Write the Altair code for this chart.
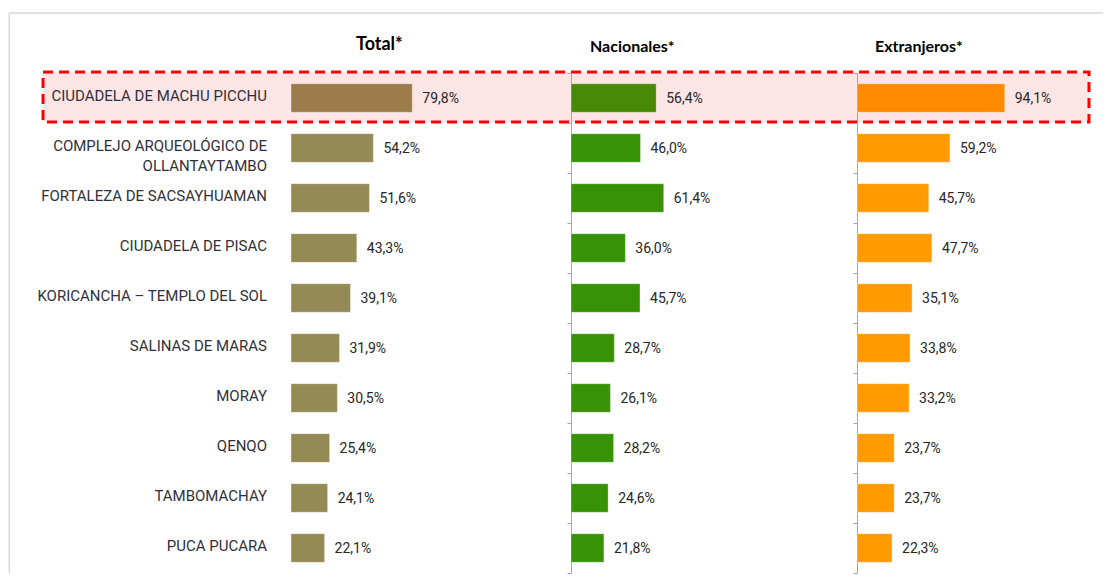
import altair as alt
import pandas as pd

categorias = [
    "CIUDADELA DE MACHU PICCHU",
    "COMPLEJO ARQUEOLÓGICO DE\nOLLANTAYTAMBO",
    "FORTALEZA DE SACSAYHUAMAN",
    "CIUDADELA DE PISAC",
    "KORICANCHA – TEMPLO DEL SOL",
    "SALINAS DE MARAS",
    "MORAY",
    "QENQO",
    "TAMBOMACHAY",
    "PUCA PUCARA",
]
total = [79.8, 54.2, 51.6, 43.3, 39.1, 31.9, 30.5, 25.4, 24.1, 22.1]
nacionales = [56.4, 46.0, 61.4, 36.0, 45.7, 28.7, 26.1, 28.2, 24.6, 21.8]
extranjeros = [94.1, 59.2, 45.7, 47.7, 35.1, 33.8, 33.2, 23.7, 23.7, 22.3]
series = ["Total*", "Nacionales*", "Extranjeros*"]
destacado = categorias[0]

colores_normal = ["#948a54", "#389206", "#ff9a00"]
colores_destacado = ["#9c7c4b", "#488907", "#ff8c00"]

# long table
filas = []
for serie, valores in zip(series, [total, nacionales, extranjeros]):
    for cat, v in zip(categorias, valores):
        filas.append({
            "serie": serie,
            "categoria": cat,
            "valor": v,
            "etiqueta": f"{v:.1f}".replace(".", ",") + "%",
            "destacado": "si" if cat == destacado else "no",
        })
df = pd.DataFrame(filas)
df_cat = pd.DataFrame({"categoria": categorias})

W_L, W_T, W_N, W_E = 248, 280, 286, 232
H = 500
px_por_pct = [1.52, 1.51, 1.57]
anchos = [W_T, W_N, W_E]
title_dx = [65, 19, 18]
title_size = [18, 16, 16]

FONT = "Roboto"


def y_enc(axis):
    return alt.Y(
        "categoria:N",
        sort=categorias,
        scale=alt.Scale(domain=categorias, paddingInner=0, paddingOuter=0),
        axis=axis,
    )


# outer light frame (top and left edges)
marco_sup = alt.Chart(df_cat).transform_filter(alt.datum.categoria == destacado).mark_rule(
    color="#d9d9d9", strokeWidth=1.5
).encode(x=alt.value(-33.75), x2=alt.value(1060), y=alt.value(-60))
marco_izq = alt.Chart(df_cat).transform_filter(alt.datum.categoria == destacado).mark_rule(
    color="#d9d9d9", strokeWidth=1.5
).encode(x=alt.value(-33.75), y=alt.value(-60), y2=alt.value(H))

# label panel with highlight box
box = (
    alt.Chart(df_cat)
    .transform_filter(alt.datum.categoria == destacado)
    .mark_rect(fill="#fde5e5", stroke="#ff0000", strokeWidth=3,
               strokeDash=[10, 6], yOffset=-1)
    .encode(x=alt.value(0), x2=alt.value(W_L + W_T + W_N + W_E), y=y_enc(None))
)
etiquetas_cat = (
    alt.Chart(df_cat)
    .mark_text(align="right", baseline="alphabetic", dy=3, lineBreak="\n",
               lineHeight=20, font=FONT, fontSize=15, color="#30303a")
    .encode(x=alt.value(W_L - 24), y=y_enc(None), text="categoria:N")
)
panel_l = alt.layer(marco_sup, marco_izq, box, etiquetas_cat).properties(width=W_L, height=H)

paneles = [panel_l]
for i, serie in enumerate(series):
    axis = None
    if i > 0:
        axis = alt.Axis(labels=False, title=None, domainColor="#a6a6a6",
                        tickColor="#a6a6a6", tickSize=4, tickBand="extent",
                        domainWidth=1, tickWidth=1, grid=False)
    base = alt.Chart(df).transform_filter(alt.datum.serie == serie)
    xs = alt.X("valor:Q", scale=alt.Scale(domain=[0, anchos[i] / px_por_pct[i]]), axis=None)
    barras = base.mark_bar(height={"band": 0.572}, stroke="white",
                           strokeOpacity=0.35, strokeWidth=1).encode(
        x=xs,
        y=y_enc(axis),
        color=alt.Color("destacado:N",
                        scale=alt.Scale(domain=["si", "no"],
                                        range=[colores_destacado[i], colores_normal[i]]),
                        legend=None),
    )
    textos = base.mark_text(align="left", baseline="alphabetic", dx=10, dy=5,
                            font=FONT, fontSize=14, color="#262626").encode(
        x=xs, y=y_enc(axis), text="etiqueta:N"
    )
    panel = alt.layer(barras, textos).properties(
        width=anchos[i], height=H,
        title=alt.TitleParams(serie, anchor="start", dx=title_dx[i], frame="group",
                              font="Lato", fontSize=title_size[i], fontWeight="bold",
                              color="#000000", baseline="alphabetic", offset=5),
    )
    paneles.append(panel)

chart = (
    alt.hconcat(*paneles, spacing=0, bounds="flush")
    .resolve_scale(x="independent", y="independent", color="independent")
    .configure_view(stroke=None)
    .properties(padding={"left": 0, "top": 4, "right": 0, "bottom": 0},
                background="white")
)

chart.save("out.html", embed_options={"renderer": "svg", "actions": False})
